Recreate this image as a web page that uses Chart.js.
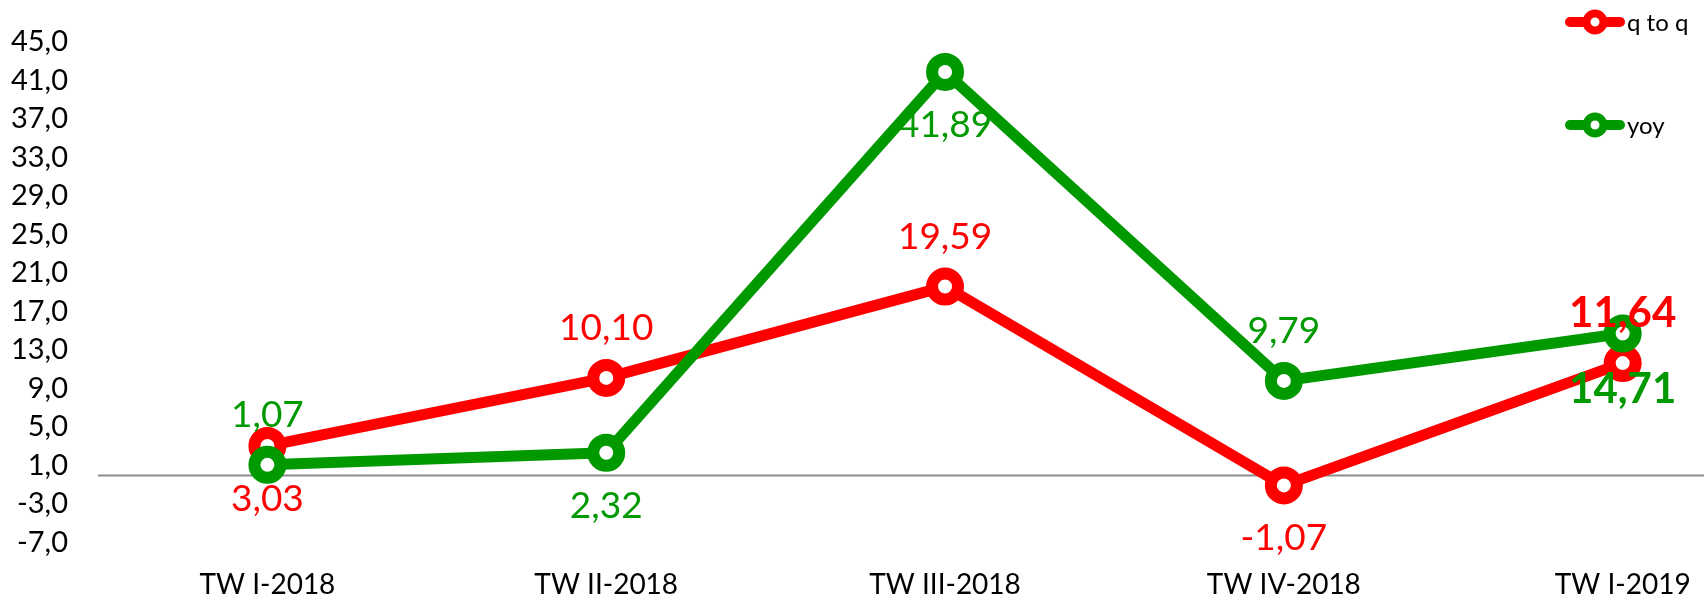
<!DOCTYPE html>
<html>
<head>
<meta charset="utf-8">
<script src="https://cdn.jsdelivr.net/npm/chart.js@4.4.0/dist/chart.umd.min.js"></script>
<style>
  html, body { margin: 0; padding: 0; background: #fff; overflow: hidden; }
  #wrap { width: 1704px; height: 597px; }
</style>
</head>
<body>
<div id="wrap"><canvas id="c" width="1704" height="597"></canvas></div>
<script>
// Quarterly growth rates (%)
const categories = ['TW I-2018', 'TW II-2018', 'TW III-2018', 'TW IV-2018', 'TW I-2019'];
const qToQ = [3.03, 10.10, 19.59, -1.07, 11.64];
const yoy = [1.07, 2.32, 41.89, 9.79, 14.71];
const yTicks = [-7, -3, 1, 5, 9, 13, 17, 21, 25, 29, 33, 37, 41, 45];
const seriesNames = ['q to q', 'yoy'];

// where each value label sits relative to its point
const qToQLabelPos = ['bottom', 'top', 'top', 'bottom', 'top'];
const yoyLabelPos = ['top', 'bottom', 'bottom', 'top', 'bottom'];

const RED = '#FF0000';
const GREEN = '#009900';
const FONT = 'Lato, Carlito, "Liberation Sans", sans-serif';

const fmt = (v, d) => v.toFixed(d).replace('.', ',');

// horizontal line at zero across the plot
const zeroLine = {
  id: 'zeroLine',
  beforeDatasetsDraw(chart) {
    const { ctx, chartArea, scales } = chart;
    const y = Math.round(scales.y.getPixelForValue(0)) + 0.5;
    ctx.save();
    ctx.strokeStyle = '#8c8c8c';
    ctx.lineWidth = 2;
    ctx.beginPath();
    ctx.moveTo(chartArea.left, y);
    ctx.lineTo(chart.width, y);
    ctx.stroke();
    ctx.restore();
  }
};

// value labels above / below each point; the latest quarter is emphasised
const valueLabels = {
  id: 'valueLabels',
  afterDatasetsDraw(chart) {
    const ctx = chart.ctx;
    const positions = [qToQLabelPos, yoyLabelPos];
    chart.data.datasets.forEach((ds, di) => {
      const meta = chart.getDatasetMeta(di);
      meta.data.forEach((pt, i) => {
        const last = i === ds.data.length - 1;
        const above = positions[di][i] === 'top';
        const off = above ? -49.5 : (last ? 56 : 53);
        ctx.save();
        ctx.fillStyle = ds.borderColor;
        ctx.font = (last ? 'bold 42px ' : '37px ') + FONT;
        ctx.textAlign = 'center';
        ctx.textBaseline = 'middle';
        ctx.fillText(fmt(ds.data[i].y, 2), pt.x, pt.y + off);
        ctx.restore();
      });
    });
  }
};

// legend stacked in the top-right corner
const sideLegend = {
  id: 'sideLegend',
  afterDraw(chart) {
    const ctx = chart.ctx;
    chart.data.datasets.forEach((ds, i) => {
      const y = 22 + i * 103;
      const x0 = 1570, x1 = 1620, cx = 1595;
      ctx.save();
      ctx.strokeStyle = ds.borderColor;
      ctx.lineCap = 'round';
      ctx.lineWidth = 10;
      ctx.beginPath();
      ctx.moveTo(x0, y);
      ctx.lineTo(x1, y);
      ctx.stroke();
      ctx.beginPath();
      ctx.arc(cx, y, 8.5, 0, Math.PI * 2);
      ctx.fillStyle = '#fff';
      ctx.fill();
      ctx.lineWidth = 8;
      ctx.stroke();
      ctx.fillStyle = '#000';
      ctx.font = '24px ' + FONT;
      ctx.textAlign = 'left';
      ctx.textBaseline = 'middle';
      ctx.fillText(ds.label, 1627, y + 1);
      ctx.restore();
    });
  }
};

function lineSeries(label, values, color, order) {
  return {
    label,
    data: values.map((v, i) => ({ x: i, y: v })),
    borderColor: color,
    backgroundColor: '#fff',
    borderWidth: 11,
    borderCapStyle: 'round',
    borderJoinStyle: 'round',
    pointRadius: 13,
    pointBorderWidth: 12,
    pointBackgroundColor: '#fff',
    pointBorderColor: color,
    tension: 0,
    clip: false,
    order
  };
}

function draw() {
  new Chart(document.getElementById('c'), {
    type: 'line',
    data: {
      datasets: [
        lineSeries(seriesNames[0], qToQ, RED, 1),
        lineSeries(seriesNames[1], yoy, GREEN, 0)
      ]
    },
    options: {
      responsive: false,
      animation: false,
      devicePixelRatio: 1,
      layout: { autoPadding: false, padding: { top: 42, right: 0, bottom: 0, left: 0 } },
      plugins: { legend: { display: false }, tooltip: { enabled: false } },
      scales: {
        x: {
          type: 'linear',
          min: -0.5,
          max: 4.24,
          afterBuildTicks: s => { s.ticks = categories.map((c, i) => ({ value: i })); },
          afterFit: s => { s.height = 54.5; s.paddingLeft = 0; s.paddingRight = 0; },
          grid: { display: false, drawTicks: false },
          border: { display: false },
          ticks: {
            padding: 25.5,
            autoSkip: false,
            maxRotation: 0,
            color: '#000',
            font: { family: FONT, size: 28 },
            callback: v => categories[v]
          }
        },
        y: {
          min: -7,
          max: 45,
          afterBuildTicks: s => { s.ticks = yTicks.map(v => ({ value: v })); },
          afterFit: s => { s.width = 98; s.paddingTop = 0; s.paddingBottom = 0; },
          grid: { display: false, drawTicks: false },
          border: { display: false },
          ticks: {
            padding: 30,
            autoSkip: false,
            color: '#000',
            font: { family: FONT, size: 29 },
            callback: v => fmt(v, 1)
          }
        }
      }
    },
    plugins: [zeroLine, valueLabels, sideLegend]
  });
}

if (document.fonts && document.fonts.load) {
  Promise.all([
    document.fonts.load('28px Lato'),
    document.fonts.load('bold 42px Lato')
  ]).then(draw, draw);
} else {
  draw();
}
</script>
</body>
</html>
